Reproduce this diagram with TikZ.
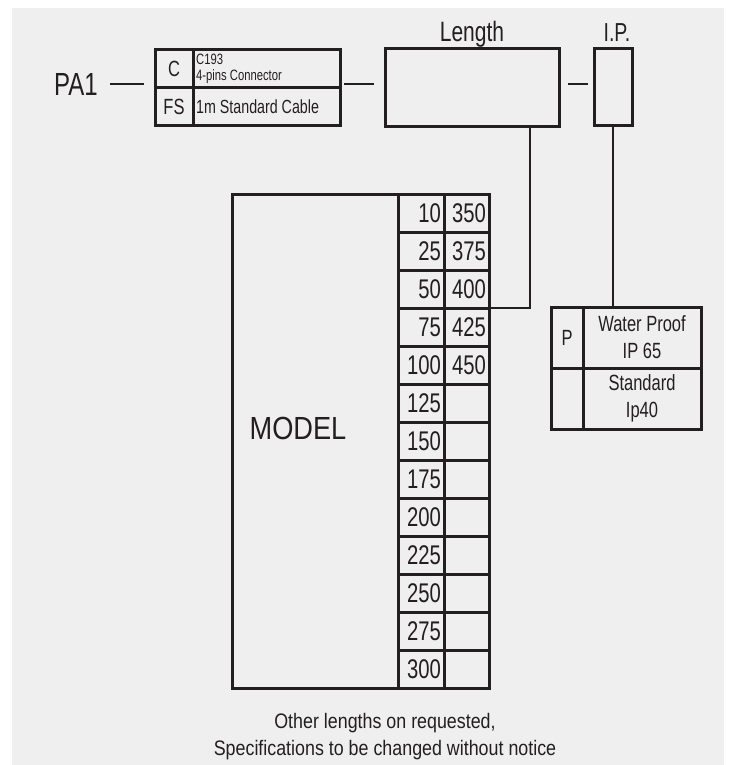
\documentclass[tikz,border=0pt]{standalone}
\usepackage{fontspec}
\setmainfont[FakeStretch=0.75]{Liberation Sans}
\newfontfamily\widefont[FakeStretch=0.85]{Liberation Sans}
\usetikzlibrary{positioning,calc}
\definecolor{panelgray}{RGB}{239,239,239}
\definecolor{inkline}{RGB}{35,31,32}
\tikzset{
  box/.style={draw=inkline,line width=3pt,inner sep=0pt,outer sep=0pt,anchor=north west,text=inkline},
  cell/.style={box,minimum height=38pt,text width=40pt,inner xsep=3pt,align=right,font=\fontsize{27}{27}\selectfont},
  wire/.style={draw=inkline,line width=2.5pt},
  lbl/.style={text=inkline,inner sep=0pt},
}

\begin{document}
\begin{tikzpicture}[x=1pt,y=-1pt]
  \useasboundingbox (0,0) rectangle (732,765);
  \fill[panelgray] (12,8) rectangle (724,765);

  % top row: connector, length, protection
  \node[lbl,font=\fontsize{32}{32}\selectfont] (pa1) at (76,84) {PA1};
  \node[box,minimum width=38pt,minimum height=38pt,font=\fontsize{22}{22}\selectfont] (cc) at (155,50) {C};
  \node[box,minimum width=147pt,minimum height=38pt] (cdesc) at (193,50) {};
  \node[box,minimum width=38pt,minimum height=38pt,font=\fontsize{22}{22}\selectfont] (fs) at (155,88) {FS};
  \node[box,minimum width=147pt,minimum height=38pt] (fsdesc) at (193,88) {};
  \node[lbl,right=3pt of cdesc.west,align=left,font=\fontsize{15}{15.5}\selectfont] (cdesctxt) {C193\\4-pins Connector};
  \node[lbl,right=3pt of fsdesc.west,font=\fontsize{19}{19}\selectfont] (fsdesctxt) {1m Standard Cable};

  \node[box,minimum width=174pt,minimum height=78pt] (lenbox) at (385,49) {};
  \node[lbl,anchor=base,font=\fontsize{28}{28}\selectfont] (lentxt) at (472,42) {Length};
  \node[box,minimum width=38pt,minimum height=77pt] (ipbox) at (594,49) {};
  \node[lbl,anchor=base,font=\fontsize{26}{26}\selectfont] (iptxt) at (617,42) {I.P.};

  \draw[wire,shorten <=12pt,shorten >=11pt] (pa1.east) -- (pa1.east -| cc.west);
  \draw[wire,shorten <=4pt,shorten >=11pt] (pa1 -| cdesc.east) -- (pa1 -| lenbox.west);
  \draw[wire,shorten <=9pt,shorten >=6pt] (pa1 -| lenbox.east) -- (pa1 -| ipbox.west);

  % model and length table
  \node[box,minimum width=166pt,minimum height=494pt] (model) at (232,194) {};
  \node[lbl,font=\widefont\fontsize{32}{32}\selectfont] (modeltxt) at (298,428) {MODEL};
  \foreach \a/\b [count=\i from 0] in {10/350,25/375,50/400,75/425,100/450,125/,150/,175/,200/,225/,250/,275/,300/} {
    \node[cell,minimum width=46pt] (ra\i) at (398,194+38*\i) {\a};
    \node[cell,text width=39pt,minimum width=45pt] (rb\i) at (444,194+38*\i) {\b};
  }
  \draw[wire] ([xshift=58pt]lenbox.south) |- (rb3.north east);

  % protection table
  \node[box,minimum width=32pt,minimum height=61pt,font=\fontsize{22}{22}\selectfont] (wpp) at (551,307) {P};
  \node[box,minimum width=118pt,minimum height=61pt,align=center,font=\fontsize{22}{27}\selectfont] (wpa) at (583,307) {Water Proof\\IP 65};
  \node[box,minimum width=32pt,minimum height=61pt] (wpq) at (551,368) {};
  \node[box,minimum width=118pt,minimum height=61pt,align=center,font=\fontsize{22}{27}\selectfont] (wpb) at (583,368) {Standard\\Ip40};
  \draw[wire] (ipbox.south) -- (ipbox.south |- wpa.north);

  \node[lbl,align=center,font=\widefont\fontsize{21}{27}\selectfont] (note) at (385,737) {Other lengths on requested,\\Specifications to be changed without notice};
\end{tikzpicture}
\end{document}
